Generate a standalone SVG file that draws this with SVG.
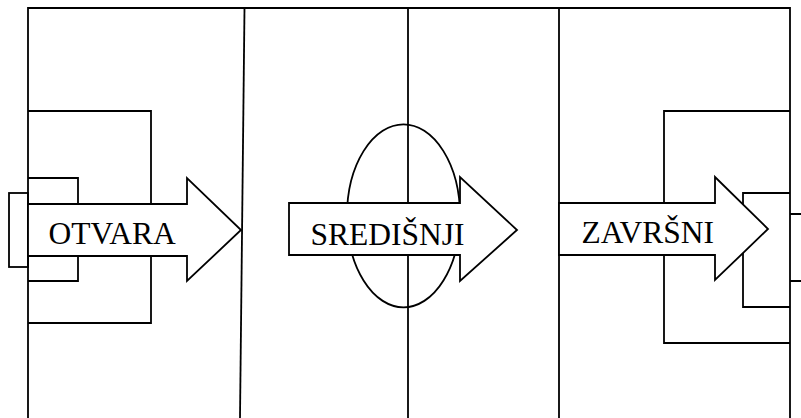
<svg xmlns="http://www.w3.org/2000/svg" width="801" height="418" viewBox="0 0 801 418">
  <style>
    .ln { fill: none; stroke: #000; stroke-width: 1.8; }
    .ar { fill: #fff; stroke: #000; stroke-width: 1.8; stroke-linejoin: miter; }
    .lbl { font-family: "Liberation Serif", "Times New Roman", serif; font-size: 31.5px; fill: #000; }
  </style>
  <rect x="0" y="0" width="801" height="418" fill="#fff"/>
  <g id="field">
    <path class="ln" d="M28,418 V8 H790 V418"/>
    <path class="ln" d="M244.5,8 L240,418"/>
    <path class="ln" d="M408,8 V418"/>
    <path class="ln" d="M559,8 V418"/>
    <ellipse class="ln" cx="403.5" cy="215.8" rx="56.5" ry="91.5"/>
    <path class="ln" d="M28,111 H151 V323 H28"/>
    <path class="ln" d="M28,178 H78 V281 H28"/>
    <rect class="ln" x="9" y="193" width="19" height="74"/>
    <path class="ln" d="M790,111 H664 V343 H790"/>
    <path class="ln" d="M790,193 H743 V307 H790"/>
    <path class="ln" d="M801,214 H790 M790,281 H801"/>
  </g>
  <g id="connectors"></g>
  <g id="node-otvara">
    <path class="ar" d="M28,204 H187 V178 L241,230 L187,281 V256 H28 Z"/>
    <text class="lbl" x="48.5" y="243.5">OTVARA</text>
  </g>
  <g id="node-sredisnji">
    <path class="ar" d="M289,203 H460 V177 L517,230 L460,281 V255 H289 Z"/>
    <text class="lbl" x="310.5" y="245">SREDIŠNJI</text>
  </g>
  <g id="node-zavrsni">
    <path class="ar" d="M559,203 H715 V177 L768,229 L715,280 V255 H559 Z"/>
    <text class="lbl" x="581.5" y="243">ZAVRŠNI</text>
  </g>
</svg>
